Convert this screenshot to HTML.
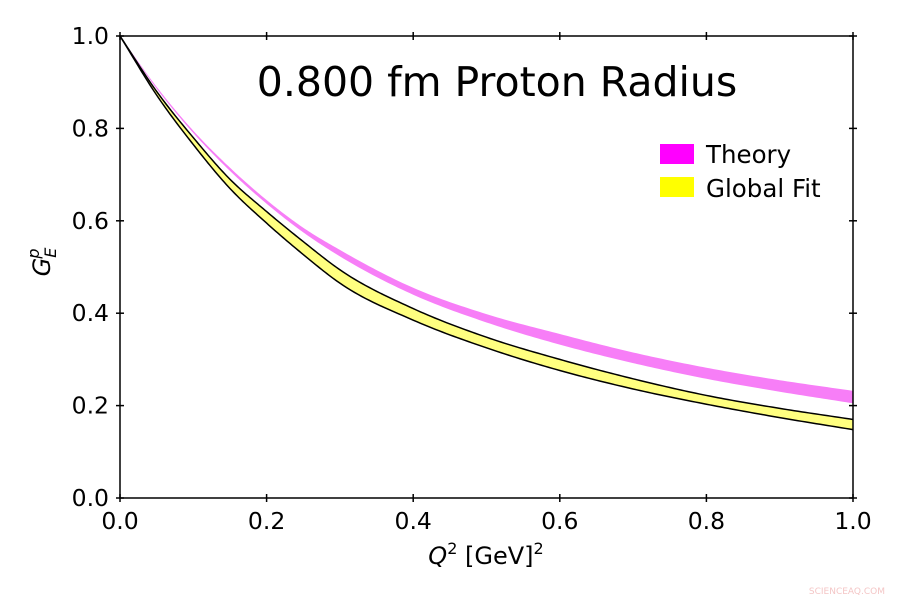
<!DOCTYPE html>
<html><head><meta charset="utf-8"><style>
body{margin:0;background:#fff}
svg{font-family:"DejaVu Sans","Liberation Sans",sans-serif}
</style></head><body>
<svg id="chart" width="900" height="600" viewBox="0 0 900 600">
<rect width="900" height="600" fill="#fff"/>
<g id="bands"></g>
<g id="axes"></g>
<text x="497" y="96" font-size="41" text-anchor="middle">0.800 fm Proton Radius</text>
<g>
<rect x="660" y="144" width="34" height="20" fill="#ff00ff"/>
<text x="706" y="163" font-size="24.5">Theory</text>
<rect x="660" y="177" width="34" height="20" fill="#ffff00"/>
<text x="706" y="197" font-size="24.5">Global Fit</text>
</g>
<text x="486" y="564" font-size="24" text-anchor="middle"><tspan font-style="italic">Q</tspan><tspan font-size="16" dy="-10">2</tspan><tspan dy="10"> [GeV]</tspan><tspan font-size="16" dy="-10">2</tspan></text>
<text transform="translate(50,262) rotate(-90)" font-size="24" text-anchor="middle"><tspan font-style="italic">G</tspan><tspan font-size="16" font-style="italic" dy="6">E</tspan><tspan font-size="16" font-style="italic" dx="-11" dy="-17">p</tspan></text>
<text x="885" y="594" font-size="9" fill="#f4c6c6" text-anchor="end">SCIENCEAQ.COM</text>
</svg>
<script>
const qValues=[0,0.05,0.1,0.15,0.2,0.25,0.3,0.4,0.5,0.6,0.7,0.8,0.9,1.0];
const theoryHigh=[1,0.89,0.795,0.715,0.645,0.585,0.537,0.455,0.398,0.355,0.315,0.282,0.255,0.232];
const theoryLow=[1,0.886,0.79,0.708,0.637,0.575,0.523,0.44,0.38,0.332,0.292,0.258,0.23,0.205];
const globalHigh=[1,0.88,0.78,0.69,0.62,0.555,0.494,0.41,0.348,0.30,0.258,0.222,0.194,0.170];
const globalLow=[1,0.872,0.765,0.67,0.595,0.527,0.465,0.385,0.325,0.276,0.236,0.203,0.174,0.148];
const xTicks=[0,0.2,0.4,0.6,0.8,1.0];
const yTicks=[0,0.2,0.4,0.6,0.8,1.0];
const tickLabels=["0.0","0.2","0.4","0.6","0.8","1.0"];
const L=120,R=853,T=36,B=498;
const sx=v=>L+(R-L)*v, sy=v=>B-(B-T)*v;
const NS="http://www.w3.org/2000/svg";
function curve(ys){
  const n=qValues.length,m=[];
  for(let i=0;i<n;i++){
    if(i==0)m.push((ys[1]-ys[0])/(qValues[1]-qValues[0]));
    else if(i==n-1)m.push((ys[n-1]-ys[n-2])/(qValues[n-1]-qValues[n-2]));
    else{const a=(ys[i]-ys[i-1])/(qValues[i]-qValues[i-1]),b=(ys[i+1]-ys[i])/(qValues[i+1]-qValues[i]);
      const h0=qValues[i]-qValues[i-1],h1=qValues[i+1]-qValues[i];m.push((a*h1+b*h0)/(h0+h1));}
  }
  const out=[];
  for(let i=0;i<n-1;i++){const h=qValues[i+1]-qValues[i];
    for(let k=0;k<20;k++){const t=k/20,t2=t*t,t3=t2*t;
      const y=(2*t3-3*t2+1)*ys[i]+(t3-2*t2+t)*h*m[i]+(-2*t3+3*t2)*ys[i+1]+(t3-t2)*h*m[i+1];
      out.push([sx(qValues[i]+t*h),sy(y)]);}}
  out.push([sx(qValues[n-1]),sy(ys[n-1])]);
  return out;
}
const toD=p=>p.map((q,i)=>(i?"L":"M")+q[0].toFixed(2)+","+q[1].toFixed(2)).join("");
function band(hi,lo,fill,stroke,name){
const g=document.getElementById('bands');
const top=curve(hi),bot=curve(lo);
const area=document.createElementNS(NS,'path');
area.setAttribute('d',toD(top.concat(bot.slice().reverse()))+"Z");
area.setAttribute('fill',fill);


g.appendChild(area);
if(stroke){[top,bot].forEach(p=>{const l=document.createElementNS(NS,'path');l.setAttribute('d',toD(p));l.setAttribute('fill','none');l.setAttribute('stroke',stroke);l.setAttribute('stroke-width','1.5');


g.appendChild(l);});}
}
band(theoryHigh,theoryLow,"#f77ef7",null,"theory-band");
band(globalHigh,globalLow,"#ffff80","#000","global-fit-band");
const ax=document.getElementById('axes');
const frame=document.createElementNS(NS,'rect');
frame.setAttribute('x',L);frame.setAttribute('y',T);frame.setAttribute('width',R-L);frame.setAttribute('height',B-T);
frame.setAttribute('fill','none');frame.setAttribute('stroke','#000');frame.setAttribute('stroke-width','1.5');


ax.appendChild(frame);
function line(x1,y1,x2,y2,name){const l=document.createElementNS(NS,'line');l.setAttribute('x1',x1);l.setAttribute('y1',y1);l.setAttribute('x2',x2);l.setAttribute('y2',y2);l.setAttribute('stroke','#000');l.setAttribute('stroke-width','1.5');


ax.appendChild(l);}
function text(x,y,s,anchor,name){const t=document.createElementNS(NS,'text');t.setAttribute('x',x);t.setAttribute('y',y);t.setAttribute('font-size','23.5');t.setAttribute('text-anchor',anchor);t.textContent=s;


ax.appendChild(t);}
xTicks.forEach((v,i)=>{const x=sx(v);line(x,B-4,x,B+4,'x-tick');line(x,T-4,x,T+4,'x-tick-top');text(x,B+31,tickLabels[i],'middle','x-tick-label');});
yTicks.forEach((v,i)=>{const y=sy(v);line(L-4,y,L+4,y,'y-tick');line(R-4,y,R+4,y,'y-tick-right');text(L-11,y+8,tickLabels[i],'end','y-tick-label');});
</script>
</body></html>
